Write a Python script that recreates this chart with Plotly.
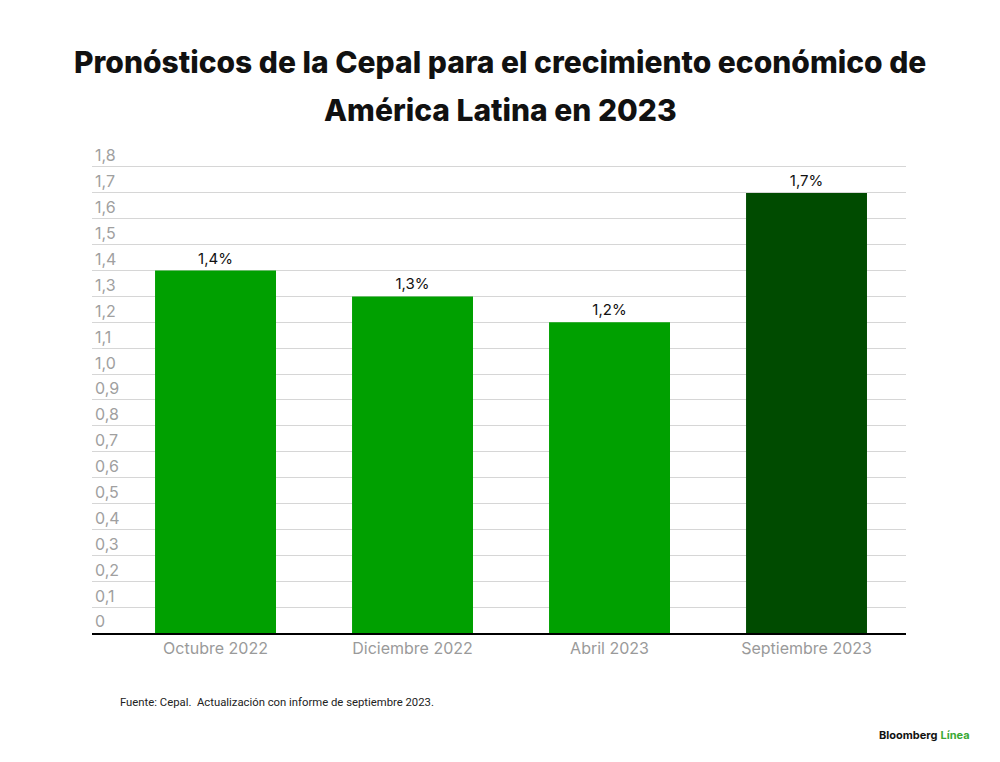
import plotly.graph_objects as go

# datos del grafico
categorias = ["Octubre 2022", "Diciembre 2022", "Abril 2023", "Septiembre 2023"]
pronostico = [1.4, 1.3, 1.2, 1.7]
colores = ["#00a000", "#00a000", "#00a000", "#004b00"]
ytick_vals = [0, 0.1, 0.2, 0.3, 0.4, 0.5, 0.6, 0.7, 0.8, 0.9, 1.0, 1.1, 1.2, 1.3, 1.4, 1.5, 1.6, 1.7, 1.8]
ytick_text = ["0", "0,1", "0,2", "0,3", "0,4", "0,5", "0,6", "0,7", "0,8", "0,9", "1,0",
              "1,1", "1,2", "1,3", "1,4", "1,5", "1,6", "1,7", "1,8"]

# la pagina tiene 8px de margen en el body, asi que todo va 8px corrido
OFF = 8
W, H = 1000 - OFF, 762 - OFF
EXTRA = 28  # espacio arriba para que se vea la etiqueta 1,8
L, T, B = 92 - OFF, 167 - OFF - EXTRA, 129
R = W - L - 814
YTOP = 1.8 + 0.1 * EXTRA / 25.9

fig = go.Figure(go.Bar(
    x=categorias, y=pronostico, marker_color=colores, marker_line_width=0,
    width=0.614, texttemplate="%{y:.1f}%", textposition="outside", cliponaxis=False,
    textfont=dict(size=15, color="#111111", family="Inter"),
))

fig.update_layout(
    width=W, height=H, separators=",.",
    margin=dict(l=L, r=R, t=T, b=B),
    paper_bgcolor="white", plot_bgcolor="white",
    showlegend=False,
    font=dict(family="Inter", color="#999999"),
    xaxis=dict(range=[-0.627, 3.505], showline=True, linecolor="black", linewidth=2,
               ticks="", tickfont=dict(size=16, color="#9a9a9a")),
    yaxis=dict(range=[0, YTOP], tickvals=ytick_vals, ticktext=ytick_text,
               ticklabelposition="inside top", showgrid=True, gridcolor="#d6d6d6",
               gridwidth=1, zeroline=False, tickfont=dict(size=16, color="#a0a0a0")),
)

def nota(texto, x, y, size, color, xanchor="center", family="Inter", weight="normal"):
    # x, y en pixeles de pantalla
    fig.add_annotation(
        text=texto, showarrow=False, xref="paper", yref="paper",
        x=(x - OFF - L) / (W - L - R), y=(H - B - (y - OFF)) / (H - T - B),
        xanchor=xanchor, yanchor="middle",
        font=dict(size=size, color=color, family=family, weight=weight),
    )

nota("Pronósticos de la Cepal para el crecimiento económico de", 500, 62, 30, "#111111", weight=800)
nota("América Latina en 2023", 500, 110, 30, "#111111", weight=800)
nota("Fuente: Cepal.  Actualización con informe de septiembre 2023.", 118, 702, 11.3, "#222222",
     xanchor="left", family="Roboto")
nota("<b>Bloomberg</b> <b><span style='color:#3aa935'>Línea</span></b>", 972, 735, 11, "#111111",
     xanchor="right")

fig.write_html("out.html")
